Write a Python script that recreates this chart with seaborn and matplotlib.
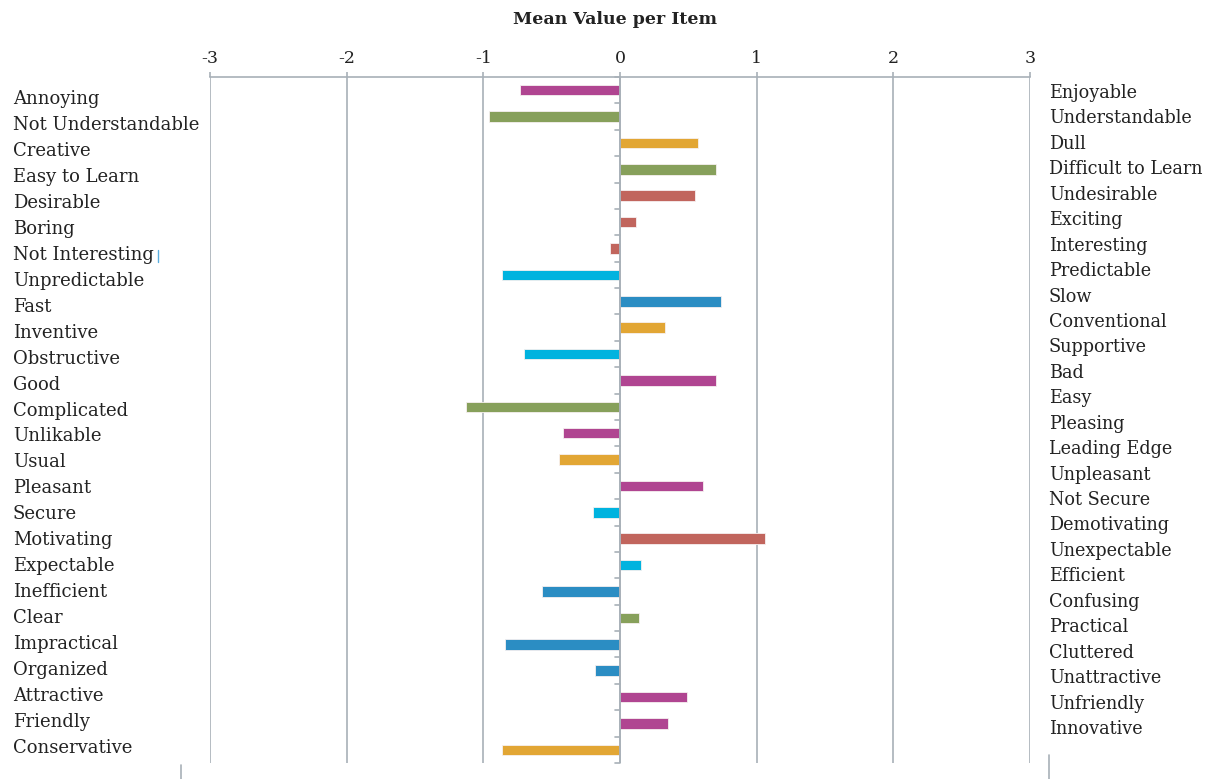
import matplotlib
matplotlib.use("Agg")
import matplotlib.pyplot as plt
import seaborn as sns
import pandas as pd
from matplotlib.lines import Line2D

# Word pairs of the questionnaire: left pole, right pole, mean score
left_items = [
    "Annoying", "Not Understandable", "Creative", "Easy to Learn", "Desirable",
    "Boring", "Not Interesting", "Unpredictable", "Fast", "Inventive",
    "Obstructive", "Good", "Complicated", "Unlikable", "Usual", "Pleasant",
    "Secure", "Motivating", "Expectable", "Inefficient", "Clear",
    "Impractical", "Organized", "Attractive", "Friendly", "Conservative",
]
right_items = [
    "Enjoyable", "Understandable", "Dull", "Difficult to Learn", "Undesirable",
    "Exciting", "Interesting", "Predictable", "Slow", "Conventional",
    "Supportive", "Bad", "Easy", "Pleasing", "Leading Edge", "Unpleasant",
    "Not Secure", "Demotivating", "Unexpectable", "Efficient", "Confusing",
    "Practical", "Cluttered", "Unattractive", "Unfriendly", "Innovative",
]
mean_values = [
    -0.73, -0.96, 0.57, 0.70, 0.55, 0.12, -0.07, -0.86, 0.74, 0.33,
    -0.70, 0.70, -1.13, -0.42, -0.45, 0.61, -0.20, 1.06, 0.15, -0.57,
    0.14, -0.84, -0.18, 0.49, 0.35, -0.86,
]
scale_groups = [
    "attractiveness", "perspicuity", "novelty", "perspicuity", "stimulation",
    "stimulation", "stimulation", "dependability", "efficiency", "novelty",
    "dependability", "attractiveness", "perspicuity", "attractiveness",
    "novelty", "attractiveness", "dependability", "stimulation",
    "dependability", "efficiency", "perspicuity", "efficiency", "efficiency",
    "attractiveness", "attractiveness", "novelty",
]
x_ticks = [-3, -2, -1, 0, 1, 2, 3]
title = "Mean Value per Item"

group_colors = {
    "attractiveness": "#b04591",
    "perspicuity": "#87a05b",
    "novelty": "#e2a634",
    "stimulation": "#c1655d",
    "dependability": "#00b3df",
    "efficiency": "#2b8dc3",
}

df = pd.DataFrame({"item": left_items, "value": mean_values, "group": scale_groups})

sns.set_theme(style="white")
plt.rcParams["font.family"] = ["DejaVu Serif"]

W, H = 1215, 779
fig = plt.figure(figsize=(W / 100, H / 100), dpi=100)
ax = fig.add_axes([210 / W, (H - 763) / H, 820 / W, 686 / H])

sns.barplot(
    data=df, x="value", y="item", hue="group", palette=group_colors,
    orient="h", dodge=False, width=0.4, legend=False, ax=ax, saturation=1,
    edgecolor="#f6f0f0", linewidth=0.6, zorder=3,
)

grid_color = "#a8b0b8"
ax.set_xlim(-3, 3)
ax.set_ylim(len(left_items) - 0.5, -0.5)
ax.xaxis.tick_top()
ax.set_xticks(x_ticks)
ax.set_xticklabels([str(t) for t in x_ticks], fontsize=12.5, color="#222222")
ax.tick_params(axis="x", direction="out", length=3.6, width=1.2, color=grid_color, pad=3.5)
ax.set_yticks([])
ax.set_xlabel("")
ax.set_ylabel("")
for side in ["left", "right", "bottom"]:
    ax.spines[side].set_visible(False)
ax.spines["top"].set_color(grid_color)
ax.spines["top"].set_linewidth(1.2)
for t in x_ticks:
    if t != 0:
        ax.axvline(t, color=grid_color, lw=1.2, zorder=1)
ax.axvline(0, color=grid_color, lw=1.4, zorder=4)

# short category tick marks on the zero line
for k in range(len(left_items) + 1):
    ax.plot([-0.04, 0], [k - 0.5, k - 0.5], color=grid_color, lw=1.2,
            zorder=4, clip_on=False)

fig.text(615 / W, 1 - 20 / H, title, ha="center", va="center",
         fontsize=12.5, fontweight="bold", color="#222222")

# pole labels on both sides
n = len(left_items)
for i, (lt, rt) in enumerate(zip(left_items, right_items)):
    yl = 99 + i * (748 - 99) / (n - 1)
    yr = 93 + i * (729 - 93) / (n - 1)
    fig.text(13 / W, 1 - yl / H, lt, ha="left", va="center",
             fontsize=13, color="#222222")
    fig.text(1049 / W, 1 - yr / H, rt, ha="left", va="center",
             fontsize=12.7, color="#222222")

# small cursor stroke after the "Not Interesting" label
fig.add_artist(Line2D([158 / W, 158 / W], [1 - 262 / H, 1 - 250 / H],
                      color="#5aaee0", lw=1.0))

# frame stubs below the plot
fig.add_artist(Line2D([181 / W, 181 / W], [0, 1 - 765 / H], color=grid_color, lw=1.2))
fig.add_artist(Line2D([1049 / W, 1049 / W], [0, 1 - 755 / H], color=grid_color, lw=1.2))

fig.savefig("out.png", dpi=100)
